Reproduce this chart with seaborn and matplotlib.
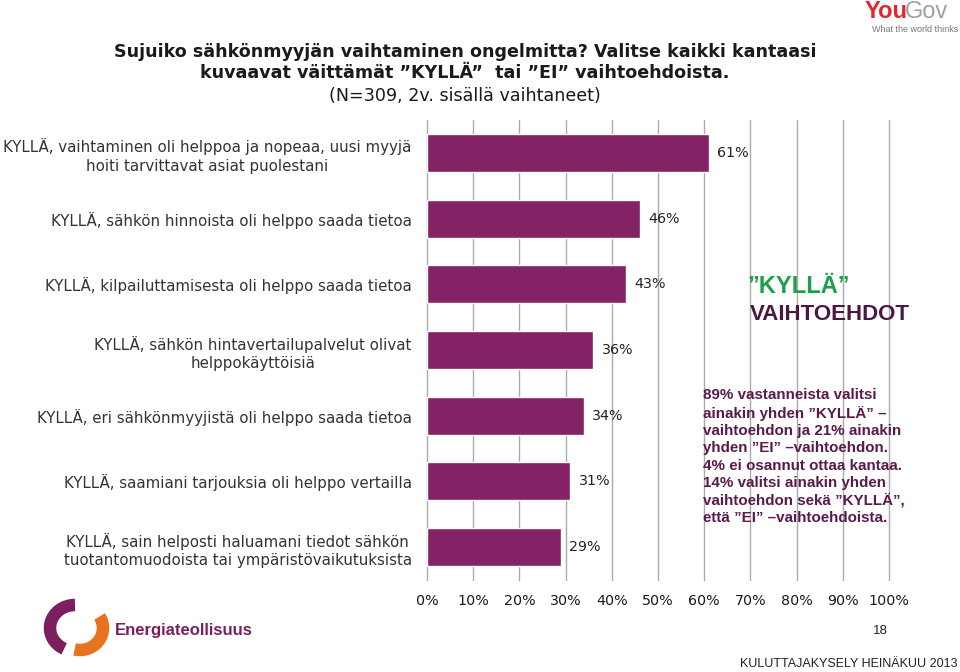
import matplotlib
matplotlib.use("Agg")
import matplotlib.pyplot as plt
import matplotlib.patches as mpatches
import seaborn as sns
import pandas as pd

categories = [
    "KYLLÄ, vaihtaminen oli helppoa ja nopeaa, uusi myyjä\nhoiti tarvittavat asiat puolestani",
    "KYLLÄ, sähkön hinnoista oli helppo saada tietoa",
    "KYLLÄ, kilpailuttamisesta oli helppo saada tietoa",
    "KYLLÄ, sähkön hintavertailupalvelut olivat\nhelppokäyttöisiä",
    "KYLLÄ, eri sähkönmyyjistä oli helppo saada tietoa",
    "KYLLÄ, saamiani tarjouksia oli helppo vertailla",
    "KYLLÄ, sain helposti haluamani tiedot sähkön\ntuotantomuodoista tai ympäristövaikutuksista",
]
values = [61, 46, 43, 36, 34, 31, 29]
xticks = [0, 10, 20, 30, 40, 50, 60, 70, 80, 90, 100]
xticklabels = [f"{t}%" for t in xticks]

title_lines = [
    "Sujuiko sähkönmyyjän vaihtaminen ongelmitta? Valitse kaikki kantaasi",
    "kuvaavat väittämät ”KYLLÄ”  tai ”EI” vaihtoehdoista.",
    "(N=309, 2v. sisällä vaihtaneet)",
]
note_text = ("89% vastanneista valitsi\n"
             "ainakin yhden ”KYLLÄ” –\n"
             "vaihtoehdon ja 21% ainakin\n"
             "yhden ”EI” –vaihtoehdon.\n"
             "4% ei osannut ottaa kantaa.\n"
             "14% valitsi ainakin yhden\n"
             "vaihtoehdon sekä ”KYLLÄ”,\n"
             "että ”EI” –vaihtoehdoista.")

df = pd.DataFrame({"cat": categories, "val": values})

sns.set_theme(style="white")
plt.rcParams["font.family"] = ["DejaVu Sans"]

fig = plt.figure(figsize=(9.6, 6.72), dpi=100)
ax = fig.add_axes([427/960, 1-580/672, (889-427)/960, (580-120)/672])

bar_color = "#832264"
sns.barplot(data=df, x="val", y="cat", orient="h", color=bar_color,
            width=0.58, saturation=1, ax=ax, zorder=3)

ax.set_xlim(0, 100)
ax.set_ylim(6.5, -0.5)
ax.set_xticks(xticks)
ax.set_xticklabels(xticklabels, fontsize=10.3, color="#1a1a1a")
ax.set_xlabel("")
ax.set_ylabel("")
ax.tick_params(axis="x", length=0, pad=10)
ax.tick_params(axis="y", length=0, pad=11)
for lbl in ax.get_yticklabels():
    lbl.set_fontsize(10.8)
    lbl.set_color("#333333")
    lbl.set_multialignment("center")
    lbl.set_linespacing(1.3)
for s in ax.spines.values():
    s.set_visible(False)
ax.grid(False)
for t in xticks:
    ax.axvline(t, color="#aaaaaa", lw=1, zorder=1, clip_on=False)

for i, v in enumerate(values):
    ax.annotate(f"{v}%", (v, i), xytext=(6, 0), textcoords="offset points",
                va="center", ha="left", fontsize=10.3, color="#222222")

# Title
title_y = [52, 73, 96]
for k, (line, y) in enumerate(zip(title_lines, title_y)):
    fig.text(465/960, 1-y/672, line, ha="center", va="center",
             fontsize=12.6, fontweight="bold" if k < 2 else "normal",
             color="#1a1a1a")

# Right annotations
fig.text(799/960, 1-287/672, "”KYLLÄ”", ha="center", va="center",
         fontsize=17, fontweight="bold", color="#1ca04a",
         family="Liberation Sans")
fig.text(830/960, 1-315/672, "VAIHTOEHDOT", ha="center", va="center",
         fontsize=16, fontweight="bold", color="#4a1842",
         family="Liberation Sans")
fig.text(703/960, 1-388/672, note_text, ha="left", va="top",
         fontsize=10.9, fontweight="bold", color="#5a1a4c", linespacing=1.3,
         family="Liberation Sans")

# YouGov logo
fig.text(865/960, 1-12/672, "You", ha="left", va="center", fontsize=17,
         fontweight="bold", color="#e3262b", family="Liberation Sans")
fig.text(905/960, 1-12/672, "Gov", ha="left", va="center", fontsize=17,
         color="#a0a0a0", family="Liberation Sans")
fig.text(958/960, 1-29/672, "What the world thinks", ha="right", va="center",
         fontsize=6.5, color="#777777", family="Liberation Sans")

# Energiateollisuus logo
fig.patches.append(mpatches.Arc((75/960, 1-628/672), 50/960, 46/672,
                                theta1=90, theta2=250, lw=9, color="#7b1f5e",
                                transform=fig.transFigure, figure=fig))
fig.patches.append(mpatches.Arc((80/960, 1-628/672), 46/960, 44/672,
                                theta1=-100, theta2=40, lw=9, color="#e8731e",
                                transform=fig.transFigure, figure=fig))
fig.text(115/960, 1-631/672, "Energiateollisuus", ha="left", va="center",
         fontsize=12, fontweight="bold", color="#7b1f5e",
         family="Liberation Sans")

fig.text(880/960, 1-631/672, "18", ha="center", va="center", fontsize=9.5,
         color="#222222", family="Liberation Sans")
fig.text(958/960, 1-664/672, "KULUTTAJAKYSELY HEINÄKUU 2013", ha="right",
         va="center", fontsize=9, color="#222222", family="Liberation Sans")

fig.savefig("out.png", dpi=100)
